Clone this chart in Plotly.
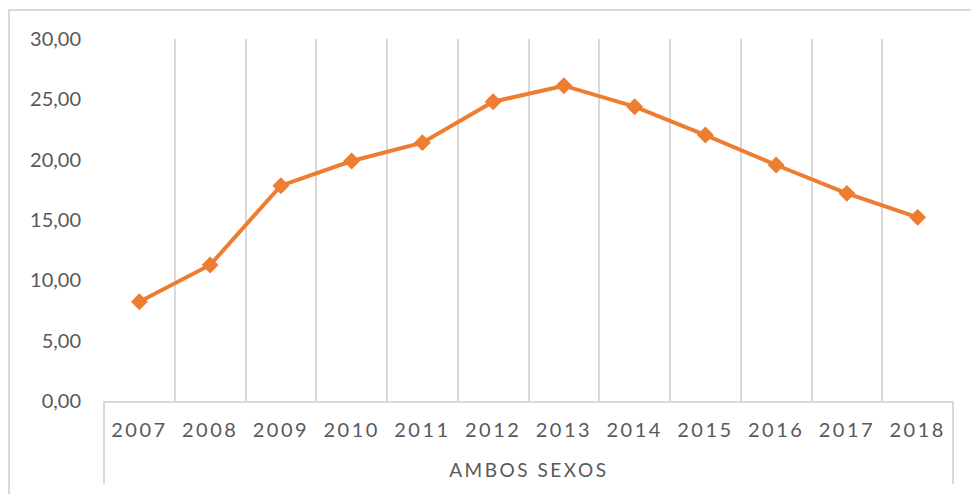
import plotly.graph_objects as go

years = ["2007", "2008", "2009", "2010", "2011", "2012",
         "2013", "2014", "2015", "2016", "2017", "2018"]
values = [8.23, 11.27, 17.84, 19.89, 21.41, 24.80,
          26.13, 24.39, 22.04, 19.56, 17.21, 15.22]
group_label = "AMBOS SEXOS"
y_ticks = [0, 5, 10, 15, 20, 25, 30]

ORANGE = "#ED7D31"
GRID = "#D9D9D9"
TEXT = "#595959"
FONT = "Lato"

# plot area in pixels (971 x 494 canvas)
W, H = 971, 494
L, R, T, B = 104, 18, 39, 93
pw, ph = W - L - R, H - T - B

def px_x(px):
    return (px - L) / pw

def px_y(py):
    return (H - B - py) / ph

fig = go.Figure()
fig.add_trace(go.Scatter(
    x=years, y=values, mode="lines+markers",
    line=dict(color=ORANGE, width=4),
    marker=dict(symbol="diamond", size=13, color=ORANGE),
    showlegend=False, hoverinfo="x+y",
))

fig.update_layout(
    width=W, height=H,
    margin=dict(l=L, r=R, t=T, b=B, pad=0),
    paper_bgcolor="white", plot_bgcolor="white",
    separators=",.",
    font=dict(family=FONT, color=TEXT, size=20),
    xaxis=dict(
        type="category", tickson="boundaries",
        showgrid=True, gridcolor=GRID, gridwidth=2,
        showline=True, linecolor=GRID, linewidth=2,
        ticks="", tickfont=dict(size=20, color=TEXT),
        ticklabelstandoff=10, range=[-0.5, len(years) - 0.5],
        zeroline=False,
    ),
    yaxis=dict(
        range=[0, 30], tickvals=y_ticks, tickformat=".2f",
        showgrid=False, zeroline=False, showline=False,
        ticks="", tickfont=dict(size=20, color=TEXT),
        ticklabelstandoff=22,
    ),
    shapes=[
        # outer chart border
        dict(type="rect", xref="paper", yref="paper",
             x0=px_x(9), x1=px_x(980), y0=px_y(10), y1=px_y(505),
             line=dict(color=GRID, width=2), layer="below"),
        # category group separators
        dict(type="line", xref="paper", yref="paper",
             x0=0, x1=0, y0=0, y1=px_y(484),
             line=dict(color=GRID, width=2)),
        dict(type="line", xref="paper", yref="paper",
             x0=1, x1=1, y0=0, y1=px_y(484),
             line=dict(color=GRID, width=2)),
    ],
    annotations=[
        dict(text=group_label, xref="paper", yref="paper",
             x=0.5, y=px_y(470), xanchor="center", yanchor="middle",
             showarrow=False, font=dict(size=19, color=TEXT, family=FONT)),
    ],
)

post = """
document.body.style.margin = '0';
var gd = document.getElementsByClassName('plotly-graph-div')[0];
function spaceText(){
  gd.querySelectorAll('.xtick text').forEach(function(t){t.setAttribute('letter-spacing','2.5px');});
  gd.querySelectorAll('.annotation-text').forEach(function(t){t.setAttribute('letter-spacing','2.5px');});
}
spaceText();
gd.on('plotly_afterplot', spaceText);
"""

fig.write_html("out.html", post_script=post, config={"displayModeBar": False})
